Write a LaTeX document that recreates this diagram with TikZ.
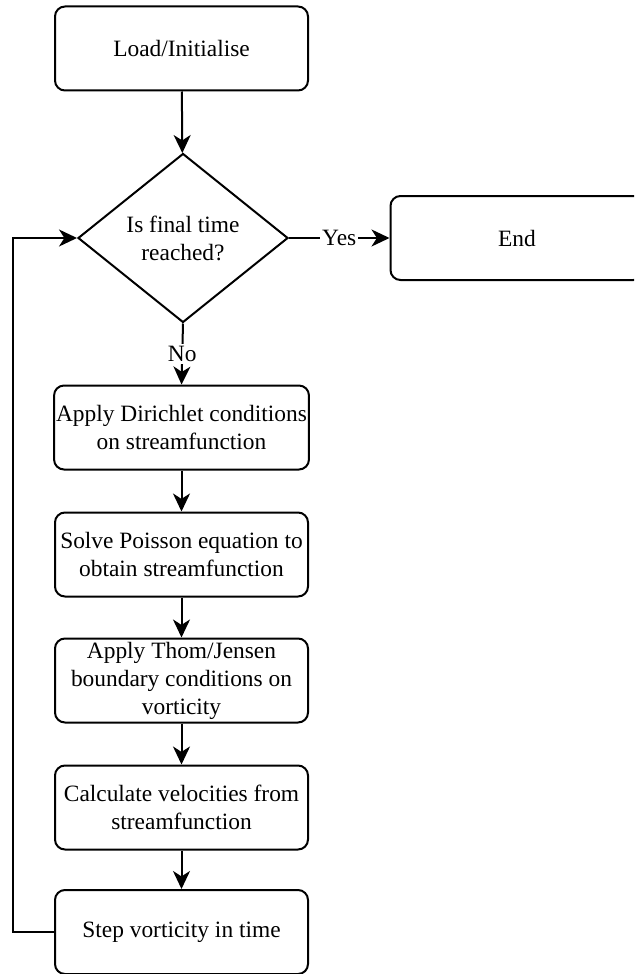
\documentclass[tikz,border=0pt]{standalone}
\usepackage{fontspec}
\setmainfont{Liberation Serif}
\usepackage{tikz}
\usepackage{xcolor}
\usetikzlibrary{arrows.meta,positioning,shapes.geometric}
\definecolor{ink}{HTML}{000000}
\definecolor{paper}{HTML}{FFFFFF}
\tikzset{
  flowbox/.style={draw=ink,fill=paper,line width=1pt,rounded corners=5pt,
                  minimum width=126.5pt,minimum height=42pt,
                  align=center,inner sep=1pt,
                  font=\fontsize{11.7}{14}\selectfont},
  decision/.style={diamond,draw=ink,fill=paper,line width=1pt,
                   minimum width=105pt,minimum height=84.5pt,inner sep=0pt,
                   align=center,font=\fontsize{11.7}{14}\selectfont},
  edgelabel/.style={fill=paper,inner sep=1pt,font=\fontsize{11.7}{14}\selectfont},
  flowarr/.style={-{Stealth[length=9pt,width=8.5pt,inset=2.7pt]},line width=1pt,draw=ink}
}
\begin{document}
\begin{tikzpicture}[x=0.5pt,y=-0.5pt]
  \useasboundingbox (0,0) rectangle (634,974);
  \clip (0,0) rectangle (634,974);
  % main column of the solver loop
  \node[flowbox] (load) at (181.5,48.5) {Load/Initialise};
  \node[decision] (check) at (183,238) {Is final time\\reached?};
  \node[flowbox] (fin) at (517,238) {End};
  \node[flowbox] (dirich) at (181.5,427.5) {Apply Dirichlet conditions\\on streamfunction};
  \node[flowbox] (poisson) at (181.5,554.5) {Solve Poisson equation to\\obtain streamfunction};
  \node[flowbox] (thom) at (181.5,680.5) {Apply Thom/Jensen\\boundary conditions on\\vorticity};
  \node[flowbox] (vel) at (181.5,807.5) {Calculate velocities from\\streamfunction};
  \node[flowbox] (stepvort) at (181.5,932) {Step vorticity in time};
  % connectors
  \draw[flowarr] (load) -- (check);
  \draw[flowarr] (check.east) -- node[edgelabel] {Yes} (fin.west);
  \draw[flowarr] (check.south) -- node[edgelabel] {No} (dirich.north);
  \draw[flowarr] (dirich) -- (poisson);
  \draw[flowarr] (poisson) -- (thom);
  \draw[flowarr] (thom) -- (vel);
  \draw[flowarr] (vel) -- (stepvort);
  % back to the time check
  \coordinate (loopx) at (13,0);
  \draw[flowarr] (stepvort.west) -| (loopx |- check) -- (check.west);
\end{tikzpicture}
\end{document}
